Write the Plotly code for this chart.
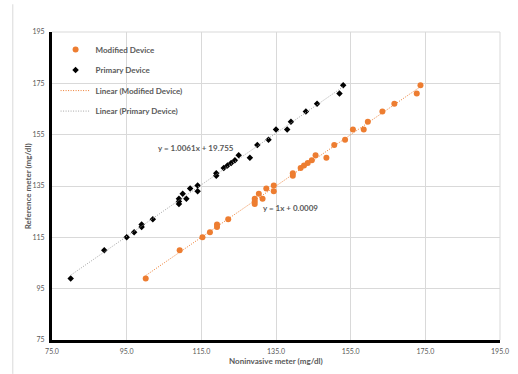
import numpy as np
import plotly.graph_objects as go

# Reference meter readings (mg/dl), shared by both devices
reference = [99, 110, 115, 117, 119, 120, 122, 128, 129, 130, 132, 130, 134, 133, 135.2,
             139, 140, 142, 143, 144, 145, 147, 146, 151, 153, 157, 157, 160, 164, 167, 171, 174.3]

# Noninvasive meter readings (mg/dl)
primary_x = [80, 89, 95, 97, 99, 99, 102, 109, 109, 109, 110, 111, 112, 114, 114,
             119, 119, 121, 122, 123, 124, 125, 128, 130, 133, 135, 138, 139, 143, 146, 152, 153]
modified_x = [100.1, 109.2, 115.3, 117.3, 119.2, 119.2, 122.2, 129.3, 129.3, 129.3, 130.4, 131.4,
              132.4, 134.4, 134.4, 139.5, 139.5, 141.6, 142.5, 143.5, 144.6, 145.6, 148.5, 150.6,
              153.5, 155.6, 158.5, 159.6, 163.5, 166.7, 172.7, 173.7]

# Linear trendline coefficients (slope, intercept)
primary_fit = (1.0061, 19.755)
modified_fit = (1.0, 0.0009)

x_ticks = [75, 95, 115, 135, 155, 175, 195]
y_ticks = [75, 95, 115, 135, 155, 175, 195]

ORANGE = "#ED7D31"
TEXT = "#595959"
GRID = "#D9D9D9"
FONT = "Lato"


def trend(xs, fit):
    xs = np.array([min(xs), max(xs)])
    return xs, fit[0] * xs + fit[1]


fig = go.Figure()

fig.add_trace(go.Scatter(
    x=modified_x, y=reference, mode="markers", name="Modified Device",
    legendgroup="a", marker=dict(color=ORANGE, size=6, symbol="circle")))
fig.add_trace(go.Scatter(
    x=primary_x, y=reference, mode="markers", name="Primary Device",
    legendgroup="b", marker=dict(color="black", size=5, symbol="diamond")))

tx, ty = trend(modified_x, modified_fit)
fig.add_trace(go.Scatter(
    x=tx, y=ty, mode="lines", name="Linear (Modified Device)", legendgroup="c",
    line=dict(color=ORANGE, width=1, dash="1px,1.5px")))
tx, ty = trend(primary_x, primary_fit)
fig.add_trace(go.Scatter(
    x=tx, y=ty, mode="lines", name="Linear (Primary Device)", legendgroup="d",
    line=dict(color="#A5A5A5", width=1, dash="1px,1.5px")))

label_font = dict(family=FONT, size=8, color=TEXT, weight="bold")

fig.add_annotation(x=113.6, y=149.7, xref="x", yref="y", showarrow=False,
                   text=f"y = {primary_fit[0]:.4f}x + {primary_fit[1]:.3f}", font=label_font)
fig.add_annotation(x=139.0, y=126.3, xref="x", yref="y", showarrow=False,
                   text=f"y = {modified_fit[0]:g}x + {modified_fit[1]:.4f}", font=label_font)

# Axis titles
fig.add_annotation(x=0.5, y=-0.068, xref="paper", yref="paper", showarrow=False,
                   text="Noninvasive meter (mg/dl)", font=label_font, yanchor="middle")
fig.add_annotation(x=-0.053, y=0.5, xref="paper", yref="paper", showarrow=False,
                   text="Reference meter (mg/dl)", font=label_font, textangle=-90,
                   xanchor="center", yanchor="middle")

# Plot-area top/right edges and the outer chart frame line on the left
fig.add_shape(type="line", xref="paper", yref="paper", x0=0, x1=1, y0=1, y1=1,
              line=dict(color=GRID, width=1))
fig.add_shape(type="line", xref="paper", yref="paper", x0=1, x1=1, y0=0, y1=1,
              line=dict(color=GRID, width=1))
fig.add_shape(type="line", xref="paper", yref="paper", x0=-0.0875, x1=-0.0875, y0=-0.11, y1=1.09,
              line=dict(color=GRID, width=1))

tick_font = dict(family=FONT, size=7, color=TEXT)

fig.update_layout(
    width=518, height=374,
    margin=dict(l=52, r=9, t=32, b=34),
    paper_bgcolor="white", plot_bgcolor="white",
    showlegend=True,
    legend=dict(x=0.008, y=0.99, xanchor="left", yanchor="top",
                font=dict(family=FONT, size=8, color=TEXT, weight="bold"),
                bgcolor="rgba(0,0,0,0)", tracegroupgap=1.5, itemwidth=30),
    xaxis=dict(range=[75, 195], tickvals=x_ticks, ticktext=[f"{v:.1f}" for v in x_ticks],
               showgrid=True, gridcolor=GRID, gridwidth=1, zeroline=False,
               showline=True, linecolor="black", linewidth=3, ticks="",
               tickfont=tick_font, ticklabelstandoff=3),
    yaxis=dict(range=[75, 195], tickvals=y_ticks, ticktext=[str(v) for v in y_ticks],
               showgrid=True, gridcolor=GRID, gridwidth=1, zeroline=False,
               showline=True, linecolor="black", linewidth=3, ticks="",
               tickfont=tick_font, ticklabelstandoff=3),
)

fig.write_html("out.html")
